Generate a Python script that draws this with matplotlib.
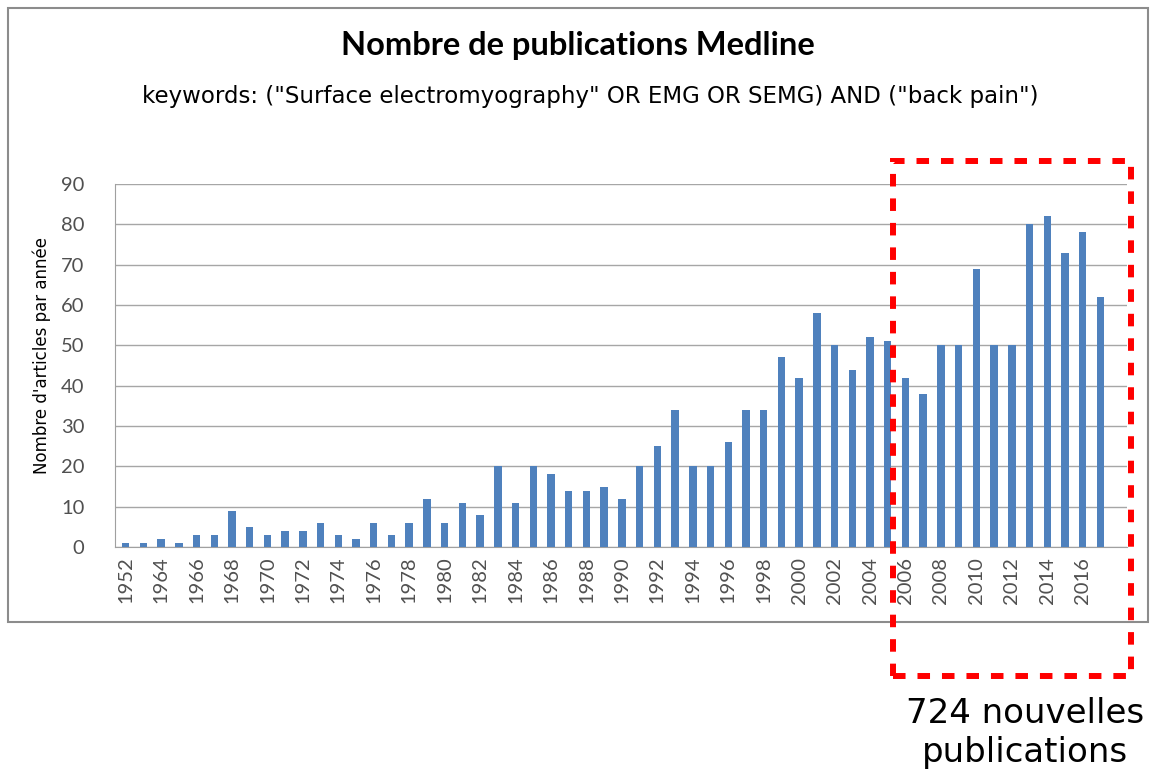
import numpy as np
import matplotlib.pyplot as plt
from matplotlib.patches import Rectangle

years = ["1952", "1963"] + [str(y) for y in range(1964, 2018)]
counts = [1, 1, 2, 1, 3, 3, 9, 5, 3, 4, 4, 6, 3, 2, 6, 3, 6, 12, 6, 11, 8,
          20, 11, 20, 18, 14, 14, 15, 12, 20, 25, 34, 20, 20, 26, 34, 34,
          47, 42, 58, 50, 44, 52, 51, 42, 38, 50, 50, 69, 50, 50, 80, 82,
          73, 78, 62]
y_ticks = list(range(0, 100, 10))

title = "Nombre de publications Medline"
subtitle = 'keywords: ("Surface electromyography" OR EMG OR SEMG) AND ("back pain")'
y_label = "Nombre d'articles par année"
note = "724 nouvelles\npublications"

W, H = 1150, 772
fig = plt.figure(figsize=(W / 100, H / 100), dpi=100)

def fx(px):
    return px / W

def fy(py):
    return 1 - py / H

# outer chart frame
fig.patches.append(Rectangle((fx(8), fy(622)), fx(1148) - fx(8), fy(8) - fy(622),
                             transform=fig.transFigure, fill=False,
                             edgecolor="#8c8c8c", lw=1.5, zorder=0))

ax = fig.add_axes([fx(115), fy(547), fx(1127) - fx(115), fy(184) - fy(547)])
x = np.arange(len(years))
ax.bar(x, counts, width=0.42, color="#4f81bd", zorder=3)
ax.set_xlim(-0.6, len(years) - 0.4 + 0.9)
ax.set_ylim(0, 90)
ax.set_yticks(y_ticks)
ax.set_xticks(x[::2])
ax.set_xticklabels(years[::2], rotation=90, fontsize=14.5, color="#505050",
                   family="Lato")
ax.set_yticklabels([str(v) for v in y_ticks], fontsize=14.5, color="#505050",
                   family="Lato")
ax.tick_params(axis="y", length=0, pad=22)
ax.tick_params(axis="x", length=0, pad=7)
ax.grid(axis="y", color="#a6a6a6", lw=1, zorder=0)
for s in ["top", "right"]:
    ax.spines[s].set_visible(False)
ax.spines["left"].set_color("#a0a0a0")
ax.spines["bottom"].set_color("#a0a0a0")

fig.text(fx(42), fy(355), y_label, rotation=90, ha="center", va="center",
         fontsize=12, color="#000000")
fig.text(fx(578), fy(46), title, ha="center", va="center", fontsize=23.5,
         fontweight="bold", family="Lato")
fig.text(fx(590), fy(96), subtitle, ha="center", va="center", fontsize=16.5)

# red dashed highlight box
fig.patches.append(Rectangle((fx(893), fy(676)), fx(1131) - fx(893), fy(161) - fy(676),
                             transform=fig.transFigure, fill=False,
                             edgecolor="#ff0000", lw=4.3, linestyle=(0, (2.1, 2.0)),
                             zorder=10))
fig.text(fx(1025), fy(733), note, ha="center", va="center", fontsize=24.5,
         linespacing=1.2)

fig.savefig("out.png", dpi=100)
